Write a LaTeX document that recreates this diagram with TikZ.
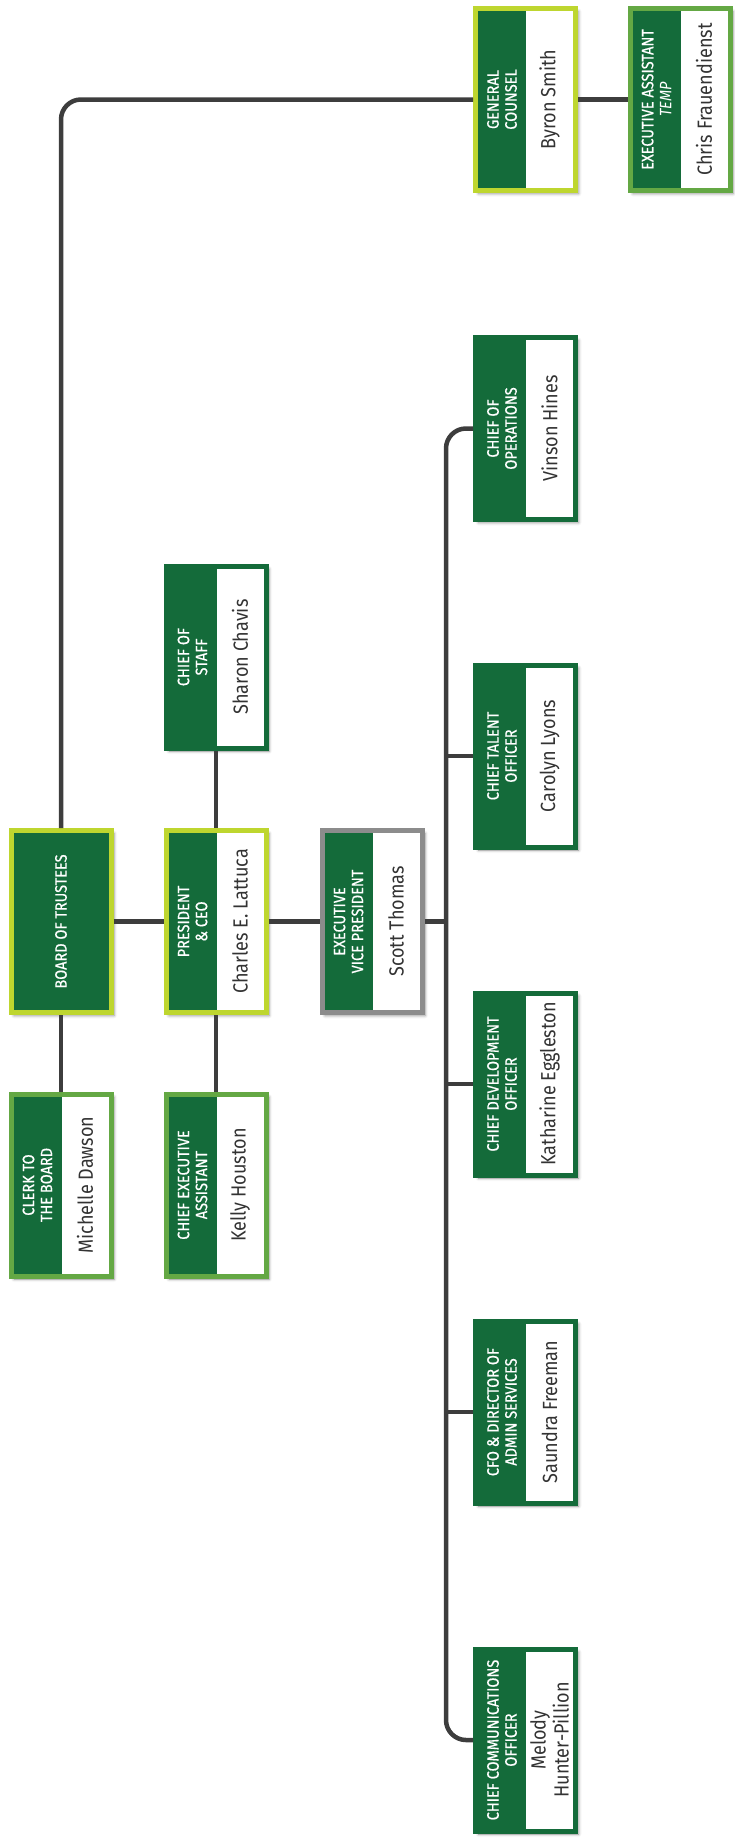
\documentclass[tikz,border=0pt]{standalone}
\usepackage{fontspec}
\setmainfont{Fira Sans}[FakeStretch=0.88]
\newfontfamily\titlefont{Fira Sans}[FakeStretch=0.88, FakeBold=0.6]
\usetikzlibrary{shadows.blur}

\definecolor{boxgreen}{HTML}{146B3A}
\definecolor{limeborder}{HTML}{BED62F}
\definecolor{leafborder}{HTML}{64A844}
\definecolor{greyborder}{HTML}{8C8C8C}
\definecolor{linkgrey}{HTML}{3D3D3D}
\definecolor{nametext}{HTML}{333333}

\tikzset{
  orgbox/.style={rectangle, fill=boxgreen, draw=#1, line width=5pt, inner sep=0pt,
    minimum width=100pt, minimum height=182pt,
    blur shadow={shadow xshift=3pt, shadow yshift=-3pt, shadow blur radius=3pt, shadow opacity=45}},
  orgbox/.default=boxgreen,
  boxtitle/.style={rotate=90, text=white, align=center, inner sep=0pt,
    font=\titlefont\fontsize{16.5}{18}\selectfont},
  boxname/.style={rotate=90, fill=white, text=nametext, align=center, inner sep=0pt,
    minimum width=177pt, minimum height=47pt, font=\fontsize{20.5}{23}\selectfont},
  link/.style={draw=linkgrey, line width=4.5pt},
}

\begin{document}
\begin{tikzpicture}[x=1pt, y=-1pt]
    \useasboundingbox (0,0) rectangle (735,1839);

    %Board and clerk
    \node[orgbox=limeborder] (board) at (61,921.5) {};
    \node[boxtitle] (board-t) at (61,921.5) {BOARD OF TRUSTEES};

    \node[orgbox=leafborder] (clerk) at (61,1185) {};
    \node[boxtitle] (clerk-t) at (37.5,1185) {CLERK TO\\THE BOARD};
    \node[boxname] (clerk-n) at (85,1185) {Michelle Dawson};

    %President column
    \node[orgbox] (cos) at (216,657) {};
    \node[boxtitle] (cos-t) at (192.5,657) {CHIEF OF\\STAFF};
    \node[boxname] (cos-n) at (240,657) {Sharon Chavis};

    \node[orgbox=limeborder] (pres) at (216,921.5) {};
    \node[boxtitle] (pres-t) at (192.5,921.5) {PRESIDENT\\\& CEO};
    \node[boxname] (pres-n) at (240,921.5) {Charles E. Lattuca};

    \node[orgbox=leafborder] (cea) at (216,1185) {};
    \node[boxtitle] (cea-t) at (192.5,1185) {CHIEF EXECUTIVE\\ASSISTANT};
    \node[boxname] (cea-n) at (240,1185) {Kelly Houston};

    %Executive vice president
    \node[orgbox=greyborder] (evp) at (372,921.5) {};
    \node[boxtitle] (evp-t) at (348.5,921.5) {EXECUTIVE\\VICE PRESIDENT};
    \node[boxname] (evp-n) at (396,921.5) {Scott Thomas};

    %Counsel row
    \node[orgbox=limeborder] (gc) at (525.5,99.5) {};
    \node[boxtitle] (gc-t) at (502,99.5) {GENERAL\\COUNSEL};
    \node[boxname] (gc-n) at (549.5,99.5) {Byron Smith};

    \node[orgbox=leafborder] (ea) at (680,99.5) {};
    \node[boxtitle] (ea-t) at (656.5,99.5) {EXECUTIVE ASSISTANT\\{\setmainfont{Fira Sans}[FakeStretch=0.88]\itshape TEMP}};
    \node[boxname] (ea-n) at (704,99.5) {Chris Frauendienst};

    %Reports of the EVP
    \node[orgbox] (ops) at (525.5,428.5) {};
    \node[boxtitle] (ops-t) at (502,428.5) {CHIEF OF\\OPERATIONS};
    \node[boxname] (ops-n) at (549.5,428.5) {Vinson Hines};

    \node[orgbox] (cto) at (525.5,756) {};
    \node[boxtitle] (cto-t) at (502,756) {CHIEF TALENT\\OFFICER};
    \node[boxname] (cto-n) at (549.5,756) {Carolyn Lyons};

    \node[orgbox] (cdo) at (525.5,1084) {};
    \node[boxtitle] (cdo-t) at (502,1084) {CHIEF DEVELOPMENT\\OFFICER};
    \node[boxname] (cdo-n) at (549.5,1084) {Katharine Eggleston};

    \node[orgbox] (cfo) at (525.5,1412) {};
    \node[boxtitle] (cfo-t) at (502,1412) {CFO \& DIRECTOR OF\\ADMIN SERVICES};
    \node[boxname] (cfo-n) at (549.5,1412) {Saundra Freeman};

    \node[orgbox] (cco) at (525.5,1740) {};
    \node[boxtitle] (cco-t) at (502,1740) {CHIEF COMMUNICATIONS\\OFFICER};
    \node[boxname] (cco-n) at (549.5,1740) {Melody\\Hunter-Pillion};

    %Lines
    \coordinate (trunk) at (446,921.5);
    \draw[link, rounded corners=20pt] (board.north) |- (gc.west);
    \draw[link] (gc.east) -- (ea.west);
    \draw[link] (board.east) -- (pres.west);
    \draw[link] (pres.east) -- (evp.west);
    \draw[link] (board.south) -- (clerk.north);
    \draw[link] (cos.south) -- (pres.north);
    \draw[link] (pres.south) -- (cea.north);
    \draw[link] (evp.east) -- (trunk);
    \draw[link, rounded corners=20pt] (ops.west) -| (trunk) |- (cco.west);
    \foreach \b in {cto,cdo,cfo}
        \draw[link] (\b.west) -- (\b.west -| trunk);

\end{tikzpicture}
\end{document}
